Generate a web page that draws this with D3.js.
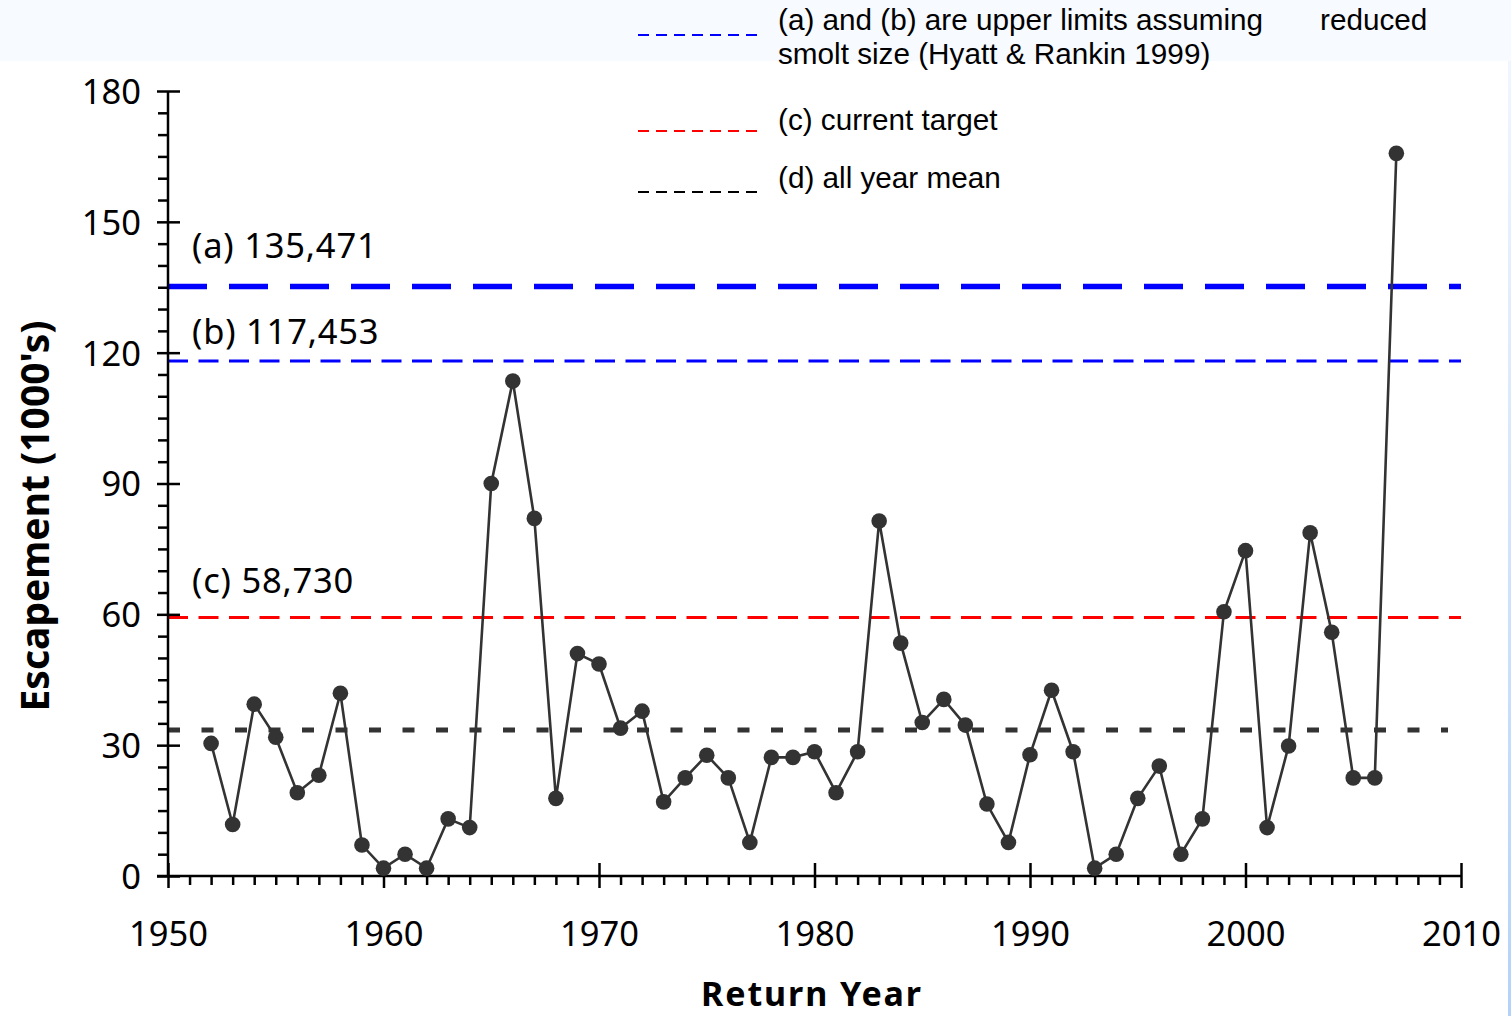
<!DOCTYPE html>
<html>
<head>
<meta charset="utf-8">
<script src="https://cdn.jsdelivr.net/npm/d3@7"></script>
<style>
  html, body { margin: 0; padding: 0; background: #ffffff; }
  svg { display: block; }
  text { font-family: "Noto Sans", "DejaVu Sans", sans-serif; fill: #000; }
</style>
</head>
<body>
<svg id="chart" width="1511" height="1016"></svg>
<script>
// ---- data ----
const years = [1952,1953,1954,1955,1956,1957,1958,1959,1960,1961,1962,1963,1964,1965,1966,1967,1968,1969,1970,
  1971,1972,1973,1974,1975,1976,1977,1978,1979,1980,1981,1982,1983,1984,1985,1986,1987,1988,1989,1990,
  1991,1992,1993,1994,1995,1996,1997,1998,1999,2000,2001,2002,2003,2004,2005,2006,2007];
const escapement = [30.4,11.8,39.4,31.8,19.1,23.1,41.9,7.1,1.8,5.0,1.8,13.1,11.1,90.0,113.5,82.0,17.8,51.0,48.6,
  33.9,37.8,17.0,22.5,27.7,22.5,7.7,27.2,27.2,28.5,19.1,28.5,81.4,53.4,35.2,40.5,34.6,16.5,7.7,27.8,
  42.6,28.5,1.8,5.0,17.8,25.2,5.0,13.1,60.6,74.6,11.1,29.8,78.7,55.9,22.5,22.5,165.7];
const refNames = ["a","b","c","d"];
const refValues = [135.2, 118.1, 59.3, 33.5];
const refLabels = ["(a) 135,471", "(b) 117,453", "(c) 58,730", ""];
const xMajorTicks = [1950,1960,1970,1980,1990,2000,2010];
const yMajorTicks = [0,30,60,90,120,150,180];
const legendTexts = ["(a) and (b) are upper limits assuming", "reduced", "smolt size (Hyatt & Rankin 1999)", "(c) current target", "(d) all year mean"];

// ---- layout ----
const svg = d3.select("#chart");
const x = d3.scaleLinear().domain([1950, 2010]).range([168, 1461]);
const y = d3.scaleLinear().domain([0, 180]).range([876, 91]);

// background pieces
svg.append("rect").attr("x",0).attr("y",0).attr("width",1511).attr("height",61).attr("fill","#f7faff");
const defs = svg.append("defs");
const grad = defs.append("linearGradient").attr("id","edge").attr("x1",0).attr("y1",0).attr("x2",0).attr("y2",1);
grad.append("stop").attr("offset","0%").attr("stop-color","#f0f6ff");
grad.append("stop").attr("offset","100%").attr("stop-color","#b4d2f8");
svg.append("rect").attr("x",1508).attr("y",61).attr("width",3).attr("height",955).attr("fill","url(#edge)");

// reference lines
const refStyle = {
  a: {color:"#0000ff", width:5.5, dash:"39,22", x2:1461, labelOff:28},
  b: {color:"#0000ff", width:3, dash:"20,10.5", x2:1461, labelOff:17},
  c: {color:"#ff0000", width:3, dash:"20,10.5", x2:1461, labelOff:24},
  d: {color:"#333333", width:5, dash:"12,21.5", x2:1448, labelOff:0}
};
refNames.forEach((n, i) => {
  const s = refStyle[n];
  svg.append("line")
    .attr("x1", x(1950)).attr("x2", s.x2)
    .attr("y1", y(refValues[i])).attr("y2", y(refValues[i]))
    .attr("stroke", s.color).attr("stroke-width", s.width)
    .attr("stroke-dasharray", s.dash);
  if (refLabels[i]) {
    svg.append("text")
      .attr("x", 192).attr("y", y(refValues[i]) - s.labelOff)
      .attr("font-size", 34.5).attr("letter-spacing", 0.8)
      .text(refLabels[i]);
  }
});

// axes
const axisW = 2.5;
const tickFont = 34.5;
const yAxis = svg.append("g").attr("transform", `translate(${x(1950)},0)`)
  .call(d3.axisLeft(y).tickValues(yMajorTicks).tickSize(11).tickFormat(d3.format("d")));
yAxis.select(".domain").remove();
yAxis.selectAll(".tick line").attr("x1", 12).attr("stroke", "#000").attr("stroke-width", axisW);
yAxis.selectAll(".tick text").attr("x", -27).attr("dy", "0.36em")
  .attr("font-size", tickFont).attr("fill", "#000");

const yMinor = svg.append("g").attr("transform", `translate(${x(1950)},0)`)
  .call(d3.axisLeft(y).tickValues(d3.range(0, 181, 5).filter(v => v % 30 !== 0)).tickSize(10).tickFormat(""));
yMinor.select(".domain").remove();
yMinor.selectAll(".tick line").attr("stroke", "#000").attr("stroke-width", axisW);

const xAxis = svg.append("g").attr("transform", `translate(0,${y(0)})`)
  .call(d3.axisBottom(x).tickValues(xMajorTicks).tickSize(12).tickFormat(d3.format("d")));
xAxis.select(".domain").remove();
xAxis.selectAll(".tick line").attr("y1", -13).attr("stroke", "#000").attr("stroke-width", axisW);
xAxis.selectAll(".tick text").attr("y", 70).attr("dy", 0)
  .attr("font-size", tickFont).attr("fill", "#000");

const xMinor = svg.append("g").attr("transform", `translate(0,${y(0)})`)
  .call(d3.axisBottom(x).tickValues(d3.range(1951, 2010).filter(v => v % 10 !== 0)).tickSize(9).tickFormat(""));
xMinor.select(".domain").remove();
xMinor.selectAll(".tick line").attr("stroke", "#000").attr("stroke-width", axisW);

// axis lines
svg.append("line").attr("x1", x(1950)).attr("x2", x(1950)).attr("y1", y(180)).attr("y2", y(0))
  .attr("stroke", "#000").attr("stroke-width", axisW);
svg.append("line").attr("x1", x(1950) - 11).attr("x2", x(2010)).attr("y1", y(0)).attr("y2", y(0))
  .attr("stroke", "#000").attr("stroke-width", axisW);

// data line + markers
const pts = years.map((yr, i) => [yr, escapement[i]]);
svg.append("path").datum(pts)
  .attr("fill", "none").attr("stroke", "#333333").attr("stroke-width", 2.6)
  .attr("d", d3.line().x(d => x(d[0])).y(d => y(d[1])));
svg.append("g").selectAll("circle").data(pts).join("circle")
  .attr("cx", d => x(d[0])).attr("cy", d => y(d[1])).attr("r", 7.8).attr("fill", "#333333");

// axis titles
svg.append("text").attr("x", 812).attr("y", 1006).attr("text-anchor", "middle")
  .attr("font-size", 34).attr("font-weight", "bold").attr("letter-spacing", 1.9).text("Return Year");
svg.append("text").attr("transform", "translate(49,516) rotate(-90)").attr("text-anchor", "middle")
  .attr("font-size", 39).attr("font-weight", "bold").text("Escapement (1000's)");

// legend
const legendRows = [
  {y: 35, color: "#0000ff"},
  {y: 131, color: "#ff0000"},
  {y: 192, color: "#000000"}
];
legendRows.forEach(r => {
  svg.append("line").attr("x1", 638).attr("x2", 757).attr("y1", r.y).attr("y2", r.y)
    .attr("stroke", r.color).attr("stroke-width", 2).attr("stroke-dasharray", "11,7");
});
const lf = 29.7;
const lt = (xx, yy, t) => svg.append("text").attr("x", xx).attr("y", yy)
  .style("font-family", "'Liberation Sans', Arial, sans-serif").style("font-size", lf + "px").text(t);
lt(778, 30, legendTexts[0]);
lt(1320, 30, legendTexts[1]);
lt(778, 64, legendTexts[2]);
lt(778, 130, legendTexts[3]);
lt(778, 188, legendTexts[4]);
</script>
</body>
</html>
